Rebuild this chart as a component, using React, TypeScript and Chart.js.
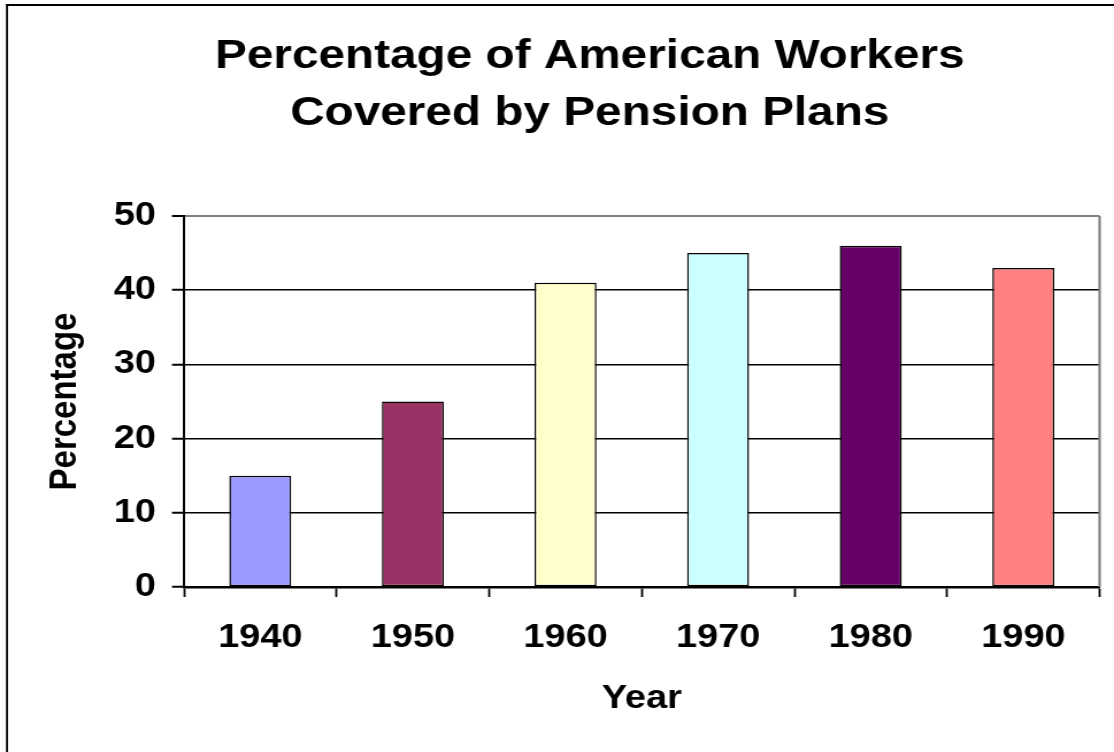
import React, { useEffect, useRef } from "react";
import { Chart, registerables } from "chart.js";

Chart.register(...registerables);

const years = ["1940", "1950", "1960", "1970", "1980", "1990"];
const percentages = [15, 25, 41, 45, 46, 43];
const barColors = ["#9999FF", "#993366", "#FFFFCC", "#CCFFFF", "#660066", "#FF8080"];
const titleLines = ["Percentage of American Workers", "Covered by Pension Plans"];
const xTitle = "Year";
const yTitle = "Percentage";
const yMin = 0;
const yMax = 50;
const yStep = 10;

const FONT = '"Liberation Sans", Arial, Helvetica, sans-serif';
const CANVAS_W = 969;
const CANVAS_H = 752;

const decorPlugin = {
  id: "decor",
  beforeDraw(chart: any) {
    const ctx = chart.ctx;
    ctx.save();
    ctx.fillStyle = "#000";
    ctx.fillRect(5.2, 4, 1.75, CANVAS_H);
    ctx.fillRect(5.2, 4, CANVAS_W, 2);
    ctx.restore();
  },
  afterDraw(chart: any) {
    const ctx = chart.ctx;
    const a = chart.chartArea;
    ctx.save();
    ctx.strokeStyle = "#808080";
    ctx.lineWidth = 2.2;
    ctx.beginPath();
    ctx.moveTo(a.right, a.top);
    ctx.lineTo(a.right, a.bottom);
    ctx.stroke();
    ctx.fillStyle = "#000";
    ctx.font = `bold 41.5px ${FONT}`;
    ctx.textAlign = "center";
    ctx.textBaseline = "alphabetic";
    ctx.fillText(titleLines[0], 513, 68);
    ctx.fillText(titleLines[1], 513, 125);
    ctx.restore();
  },
};

export default function App() {
  const ref = useRef<HTMLCanvasElement | null>(null);
  useEffect(() => {
    if (!ref.current) return;
    const chart = new Chart(ref.current, {
      type: "bar",
      data: {
        labels: years,
        datasets: [
          {
            data: percentages,
            backgroundColor: barColors,
            borderColor: "#000",
            borderWidth: 1.5,
            borderSkipped: false,
            barPercentage: 0.406,
            categoryPercentage: 1,
          },
        ],
      },
      options: {
        animation: false,
        responsive: false,
        devicePixelRatio: 1,
        layout: { padding: { left: 0, right: 12.5, top: 216, bottom: 0 } },
        plugins: {
          legend: { display: false },
          title: { display: false },
          tooltip: { enabled: false },
        },
        scales: {
          x: {
            afterFit: (s: any) => {
              s.height = 165;
            },
            grid: {
              offset: true,
              drawOnChartArea: false,
              drawTicks: true,
              tickLength: 10,
              tickColor: "#000",
              tickWidth: 1.8,
            },
            border: { display: true, color: "#000", width: 2.5 },
            ticks: {
              color: "#000",
              font: { family: FONT, size: 33, weight: "bold" },
              padding: 21,
              maxRotation: 0,
            },
            title: {
              display: true,
              text: xTitle,
              color: "#000",
              font: { family: FONT, size: 33, weight: "bold" },
              padding: { top: 0, bottom: 33 },
            },
          },
          y: {
            min: yMin,
            max: yMax,
            afterFit: (s: any) => {
              s.width = 160;
            },
            grid: {
              color: (c: any) => (c.tick && c.tick.value === yMax ? "#808080" : "#000"),
              lineWidth: (c: any) => (c.tick && c.tick.value === yMax ? 2 : 1.5),
              drawTicks: true,
              tickLength: 10.4,
              tickColor: "#000",
              tickWidth: 2,
            },
            border: { display: true, color: "#000", width: 2 },
            ticks: {
              stepSize: yStep,
              color: "#000",
              font: { family: FONT, size: 33, weight: "bold" },
              padding: 14,
            },
            title: {
              display: true,
              text: yTitle,
              color: "#000",
              font: { family: FONT, size: 33, weight: "bold" },
              padding: { top: 37.6, bottom: 0 },
            },
          },
        },
      },
      plugins: [decorPlugin],
    } as any);
    return () => chart.destroy();
  }, []);
  return (
    <div style={{ position: "absolute", left: 0, top: 0, width: 1114, height: 752, background: "#fff" }}>
      <canvas
        ref={ref}
        width={CANVAS_W}
        height={CANVAS_H}
        style={{ width: "1114px", height: "752px", display: "block" }}
      />
    </div>
  );
}
